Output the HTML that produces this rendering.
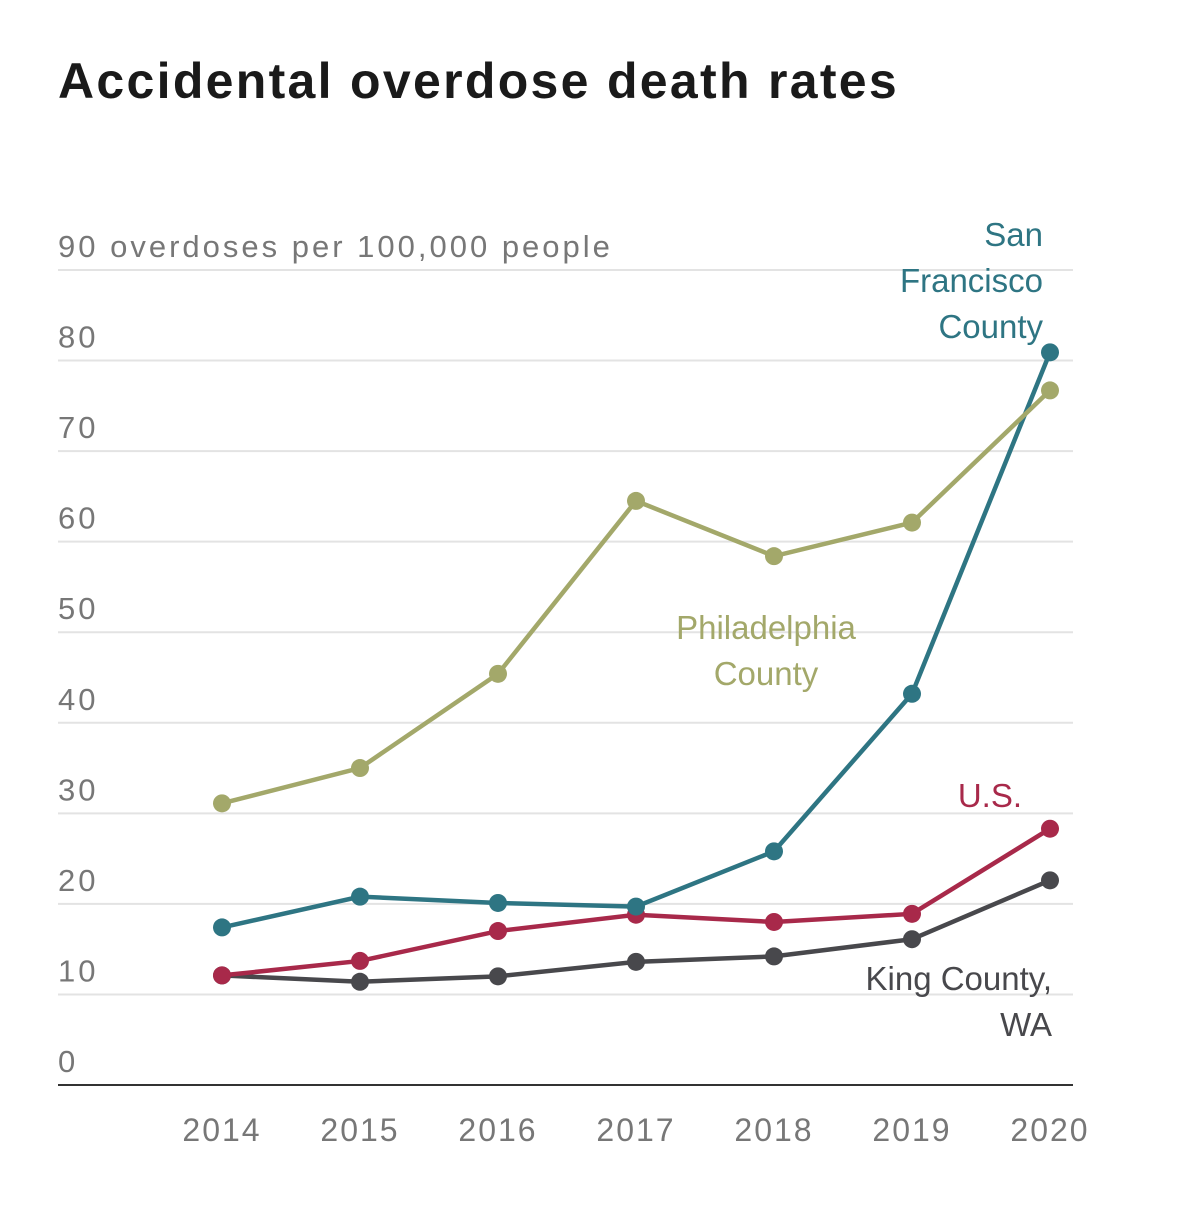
<!DOCTYPE html>
<html><head><meta charset="utf-8"><style>
body{margin:0;background:#fff;}
svg text{font-family:"Liberation Sans",sans-serif;}
</style></head><body>
<svg id="chart" width="1178" height="1200">
<text x="58" y="98" font-size="50" font-weight="bold" letter-spacing="2.3" fill="#1a1a1a">Accidental overdose death rates</text>
<g id="grid"></g><g id="series"></g><g id="labels"></g>
</svg>
<script>
const years=[2014,2015,2016,2017,2018,2019,2020];
const yTicks=[0,10,20,30,40,50,60,70,80,90];
const philly=[31.1,35.0,45.4,64.5,58.4,62.1,76.7];
const sf=[17.4,20.8,20.1,19.7,25.8,43.2,80.9];
const us=[12.1,13.7,17.0,18.8,18.0,18.9,28.3];
const king=[12.1,11.4,12.0,13.6,14.2,16.1,22.6];
const NS="http://www.w3.org/2000/svg";
function x(i){return 222+i*138;}
function y(v){return 1085-v*9.056;}
function mk(t,a,p){const e=document.createElementNS(NS,t);for(const k in a)e.setAttribute(k,a[k]);p.appendChild(e);return e;}
const grid=document.getElementById('grid');
yTicks.forEach(v=>{
 if(v>0){const l=mk('line',{x1:58,x2:1073,y1:y(v),y2:y(v),stroke:'#e3e3e3','stroke-width':2},grid);
 
 }
 const t=mk('text',{x:58,y:y(v)-13,'font-size':31,fill:'#777','letter-spacing':3},grid);
 t.textContent=v===90?'90 overdoses per 100,000 people':String(v);
 
 
});
const ax=mk('line',{x1:58,x2:1073,y1:1085,y2:1085,stroke:'#333','stroke-width':2},grid);


years.forEach((yr,i)=>{
 const t=mk('text',{x:x(i),y:1141,'font-size':32,fill:'#777','text-anchor':'middle','letter-spacing':2},grid);
 t.textContent=yr;
 
 
});
const ser=document.getElementById('series');
[[king,'#48484c','king'],[us,'#a8294a','us'],[sf,'#2e7583','sf'],[philly,'#a3a86a','philly']].forEach(([d,c,n])=>{
 const g=mk('g',{},ser);
 
 
 const p=mk('polyline',{points:d.map((v,i)=>x(i)+','+y(v)).join(' '),fill:'none',stroke:c,'stroke-width':4.5},g);
 
 
 d.forEach((v,i)=>{const ci=mk('circle',{cx:x(i),cy:y(v),r:9,fill:c},g);
 
 });
});
const lab=document.getElementById('labels');
function lbl(lines,xx,yy,c,anchor,n){const t=mk('text',{x:xx,y:yy,'font-size':33,fill:c,'text-anchor':anchor},lab);
 lines.forEach((s,i)=>{const ts=mk('tspan',{x:xx,dy:i?46:0},t);ts.textContent=s;});
 
 }
lbl(['San','Francisco','County'],1043,246,'#2e7583','end','label-sf');
lbl(['Philadelphia','County'],766,639,'#a3a86a','middle','label-philly');
lbl(['U.S.'],1022,807,'#a8294a','end','label-us');
lbl(['King County,','WA'],1052,990,'#48484c','end','label-king');
</script>
</body></html>
